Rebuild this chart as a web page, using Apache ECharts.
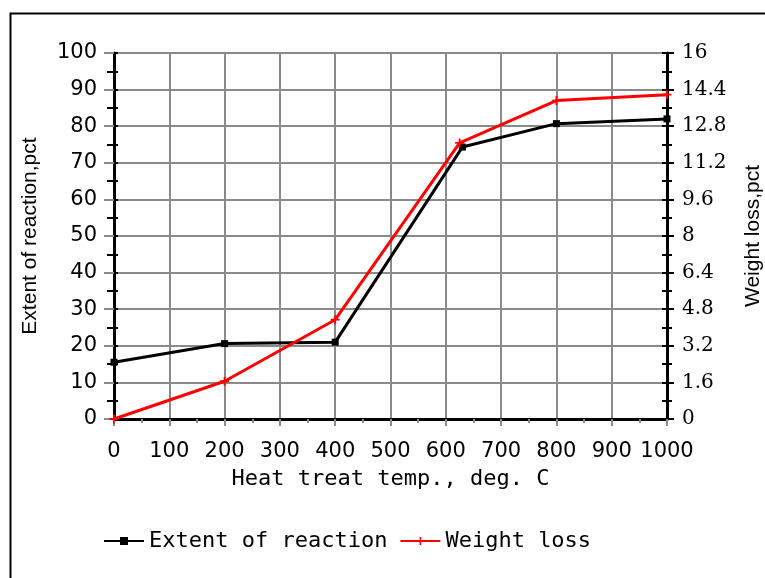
<!DOCTYPE html>
<html>
<head>
<meta charset="utf-8">
<script src="https://cdn.jsdelivr.net/npm/echarts@6/dist/echarts.min.js"></script>
<style>html,body{margin:0;padding:0;background:#fff;}#c{width:765px;height:578px;}</style>
</head>
<body>
<div id="c"></div>
<script>
// ---- data ----
var extentTemps = [0, 200, 400, 630, 800, 1000];
var extentValues = [15.5, 20.6, 21.0, 74.3, 80.7, 82.0];
var lossTemps = [0, 200, 400, 625, 800, 1000];
var lossValues = [0, 1.65, 4.34, 12.07, 13.92, 14.18];
var seriesNames = ['Extent of reaction', 'Weight loss'];
var xTitle = 'Heat treat temp., deg. C';
var leftTitle = 'Extent of reaction,pct';
var rightTitle = 'Weight loss,pct';

function pairs(xs, ys) { return xs.map(function (x, i) { return [x, ys[i]]; }); }

var GRID = '#8a8a8a';
var sans = 'DejaVu Sans';
var wide = 'DejaVu Sans Mono';
var chart = echarts.init(document.getElementById('c'), null, {renderer: 'canvas'});
var plusPath = 'path://M0,4L10,4L10,6L0,6Z M4,0L6,0L6,10L4,10Z';

chart.setOption({
  animation: false,
  backgroundColor: '#fff',
  graphic: [{
    type: 'rect', left: 8, top: 11, z: -1,
    shape: {width: 800, height: 600},
    style: {fill: 'none', stroke: '#000', lineWidth: 2}
  }],
  grid: {left: 114, right: 98, top: 53, bottom: 159, outerBoundsMode: 'none', containLabel: false,
    show: true, borderColor: '#000', borderWidth: 2, backgroundColor: 'transparent'},
  legend: {
    left: 103, top: 530, padding: 0,
    itemWidth: 40, itemHeight: 10, itemGap: 12,
    textStyle: {fontFamily: wide, fontSize: 22, color: '#000'},
    data: seriesNames
  },
  xAxis: [{
    type: 'value', min: 0, max: 1000, interval: 100,
    name: xTitle, nameLocation: 'middle', nameGap: 49,
    nameTextStyle: {fontFamily: wide, fontSize: 22, color: '#000'},
    axisLine: {show: true, onZero: false, lineStyle: {color: '#000', width: 3}},
    axisTick: {show: true, length: 7, lineStyle: {color: GRID, width: 2}},
    minorTick: {show: true, splitNumber: 2, length: 4, lineStyle: {color: GRID, width: 2}},
    axisLabel: {fontFamily: sans, fontSize: 21, color: '#000', margin: 22,
      formatter: function (v) { return String(v); }},
    splitLine: {show: true, lineStyle: {color: GRID, width: 2}}
  }],
  yAxis: [{
    type: 'value', position: 'left', min: 0, max: 100, interval: 10,
    name: leftTitle, nameLocation: 'middle', nameRotate: 90, nameGap: 73,
    nameTextStyle: {fontFamily: 'Liberation Sans', fontSize: 21, color: '#000'},
    axisLine: {show: true, onZero: false, lineStyle: {color: '#000', width: 3}},
    axisTick: {show: true, length: 10, lineStyle: {color: GRID, width: 2}},
    minorTick: {show: true, splitNumber: 2, length: 7, lineStyle: {color: '#000', width: 2}},
    axisLabel: {fontFamily: sans, fontSize: 21, color: '#000', margin: 17},
    splitLine: {show: true, lineStyle: {color: GRID, width: 2}}
  }, {
    type: 'value', position: 'right', min: 0, max: 16, interval: 1.6,
    name: rightTitle, nameLocation: 'middle', nameRotate: 90, nameGap: 76,
    nameTextStyle: {fontFamily: 'Liberation Sans', fontSize: 21, color: '#000'},
    axisLine: {show: true, onZero: false, lineStyle: {color: '#000', width: 3}},
    axisTick: {show: true, length: 7, lineStyle: {color: '#000', width: 2}},
    minorTick: {show: true, splitNumber: 2, length: 5, lineStyle: {color: '#000', width: 2}},
    axisLabel: {fontFamily: 'DejaVu Serif', fontSize: 20, color: '#000', margin: 15,
      formatter: function (v) { return String(+v.toFixed(1)); }},
    splitLine: {show: false}
  }, {
    type: 'value', position: 'left', min: 0, max: 100, interval: 10,
    axisLine: {show: false}, axisLabel: {show: false}, splitLine: {show: false},
    axisTick: {show: true, inside: true, length: 4, lineStyle: {color: '#000', width: 2}},
    minorTick: {show: true, splitNumber: 2, length: 4, lineStyle: {color: '#000', width: 2}}
  }, {
    type: 'value', position: 'right', min: 0, max: 16, interval: 1.6,
    axisLine: {show: false}, axisLabel: {show: false}, splitLine: {show: false},
    axisTick: {show: true, inside: true, length: 5, lineStyle: {color: '#000', width: 2}},
    minorTick: {show: true, splitNumber: 2, length: 5, lineStyle: {color: '#000', width: 2}}
  }],
  series: [{
    name: seriesNames[0], type: 'line', yAxisIndex: 0,
    data: pairs(extentTemps, extentValues),
    symbol: 'rect', symbolSize: 7, showSymbol: true,
    lineStyle: {color: '#000', width: 3},
    itemStyle: {color: '#000'},
    z: 3
  }, {
    name: seriesNames[1], type: 'line', yAxisIndex: 1,
    data: pairs(lossTemps, lossValues),
    symbol: plusPath, symbolSize: 9, showSymbol: true,
    lineStyle: {color: '#ff0000', width: 3},
    itemStyle: {color: '#ff0000'},
    z: 4
  }]
});
</script>
</body>
</html>
